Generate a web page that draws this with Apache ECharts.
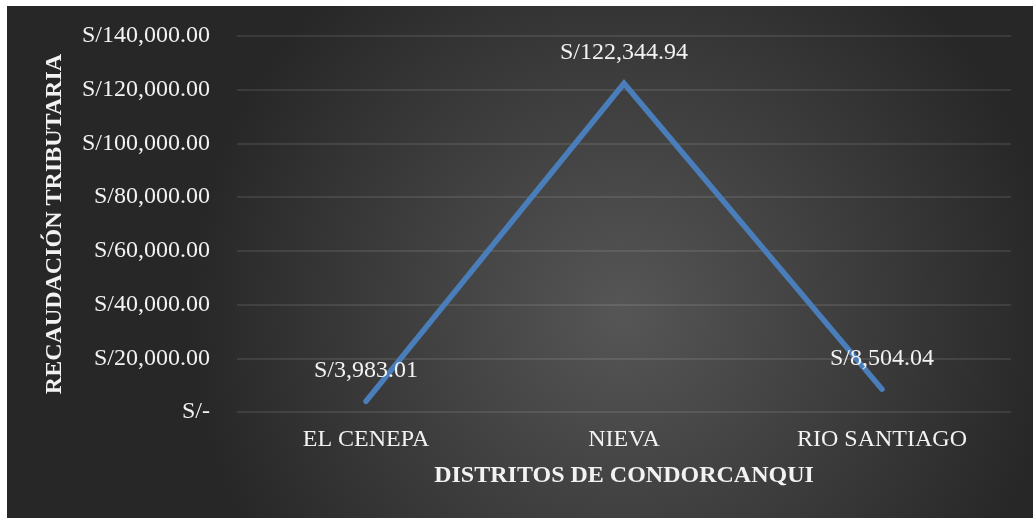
<!DOCTYPE html>
<html>
<head>
<meta charset="utf-8">
<script src="https://cdn.jsdelivr.net/npm/echarts@6/dist/echarts.min.js"></script>
<style>
  html, body { margin: 0; padding: 0; background: #ffffff; }
  #main { position: absolute; left: 7px; top: 6px; width: 1026px; height: 512px; }
</style>
</head>
<body>
<div id="main"></div>
<script>
// datos del gráfico
const distritos = ['EL CENEPA', 'NIEVA', 'RIO SANTIAGO'];
const recaudacion = [3983.01, 122344.94, 8504.04];

const fuente = 'Liberation Serif, Times New Roman, serif';

// formato moneda estilo Excel: S/ 1,234.56 y S/- para cero
function soles (v) {
  if (v === 0) return 'S/-';
  return 'S/' + v.toLocaleString('en-US', { minimumFractionDigits: 2, maximumFractionDigits: 2 });
}

const myChart = echarts.init(document.getElementById('main'));

const option = {
  backgroundColor: {
    type: 'radial',
    x: 0.6,
    y: 0.6,
    r: 0.85,
    colorStops: [
      { offset: 0, color: '#565656' },
      { offset: 1, color: '#272727' }
    ]
  },
  textStyle: { fontFamily: fuente },
  grid: {
    left: 230,
    right: 22,
    top: 30,
    bottom: 106
  },
  xAxis: {
    type: 'category',
    data: distritos,
    boundaryGap: true,
    name: 'DISTRITOS DE CONDORCANQUI',
    nameLocation: 'middle',
    nameGap: 52,
    nameTextStyle: { color: '#f2f2f2', fontSize: 24, fontWeight: 'bold', fontFamily: fuente },
    axisLine: { show: false },
    axisTick: { show: false },
    axisLabel: { color: '#f2f2f2', fontSize: 24, margin: 16, fontFamily: fuente }
  },
  yAxis: {
    type: 'value',
    min: 0,
    max: 140000,
    interval: 20000,
    name: 'RECAUDACIÓN TRIBUTARIA',
    nameLocation: 'middle',
    nameGap: 170,
    nameTextStyle: { color: '#f2f2f2', fontSize: 24, fontWeight: 'bold', fontFamily: fuente },
    axisLine: { show: false },
    axisTick: { show: false },
    axisLabel: {
      color: '#f2f2f2',
      fontSize: 24,
      margin: 27,
      fontFamily: fuente,
      formatter: soles
    },
    splitLine: { lineStyle: { color: 'rgba(255,255,255,0.13)', width: 1.5 } }
  },
  series: [
    {
      name: 'Recaudación',
      type: 'line',
      data: recaudacion,
      symbol: 'circle',
      symbolSize: 1,
      showSymbol: true,
      itemStyle: { color: 'rgba(0,0,0,0)' },
      lineStyle: { color: '#4a7ebb', width: 5.5, cap: 'round', join: 'miter' },
      label: {
        show: true,
        position: 'top',
        distance: 18,
        color: '#f2f2f2',
        fontSize: 24,
        fontFamily: fuente,
        formatter: function (p) { return soles(p.value); }
      },
      emphasis: { disabled: true },
      animation: false
    }
  ]
};

myChart.setOption(option);
window.addEventListener('resize', function () {
  myChart.resize();
});
</script>
</body>
</html>
